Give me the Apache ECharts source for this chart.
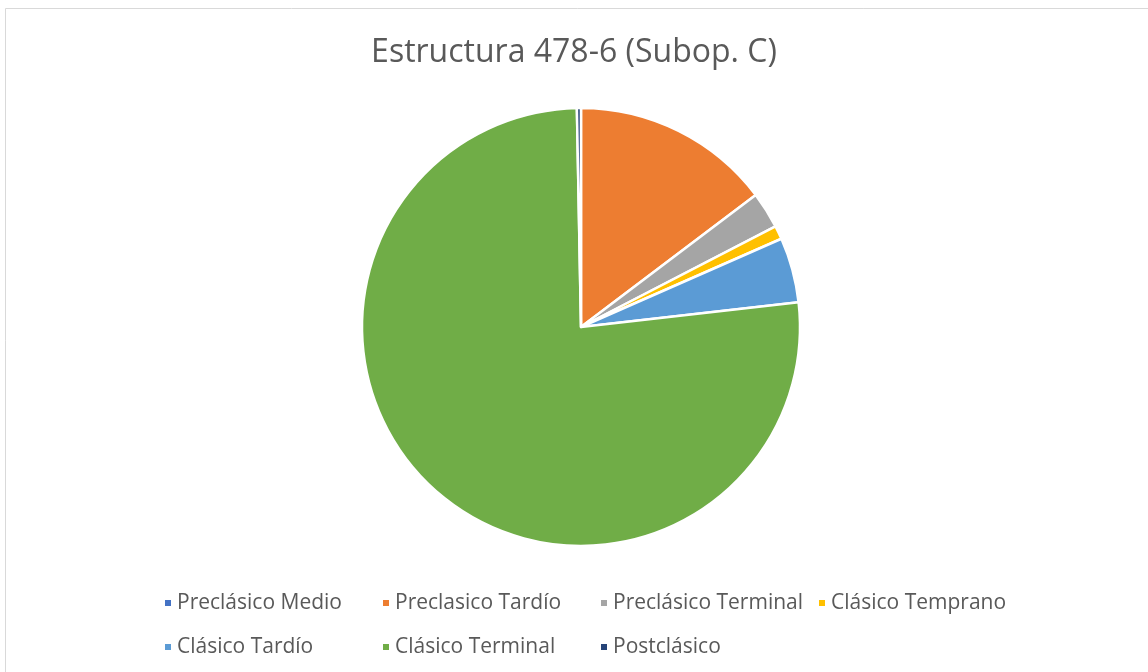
<!DOCTYPE html>
<html>
<head>
<meta charset="utf-8">
<script src="https://cdn.jsdelivr.net/npm/echarts@6/dist/echarts.min.js"></script>
<style>
  html, body { margin: 0; padding: 0; background: #fff; }
  #chart { width: 1148px; height: 672px; }
</style>
</head>
<body>
<div id="chart"></div>
<script>
// periodos y porcentajes
const periods = ['Preclásico Medio', 'Preclasico Tardío', 'Preclásico Terminal', 'Clásico Temprano', 'Clásico Tardío', 'Clásico Terminal', 'Postclásico'];
const values = [0, 14.7, 2.7, 1.0, 4.8, 76.5, 0.3];
const colors = ['#4472C4', '#ED7D31', '#A5A5A5', '#FFC000', '#5B9BD5', '#70AD47', '#264478'];

const chart = echarts.init(document.getElementById('chart'));

chart.setOption({
  color: colors,
  animation: false,
  title: {
    text: 'Estructura 478-6 (Subop. C)',
    left: 'center',
    top: 32,
    textStyle: {
      fontFamily: 'Open Sans',
      fontWeight: 'normal',
      fontSize: 32,
      color: '#595959'
    }
  },
  graphic: [
    {
      type: 'rect',
      shape: { x: 5.5, y: 8.5, width: 1160, height: 680 },
      style: { fill: 'none', stroke: '#d9d9d9', lineWidth: 1 },
      silent: true
    }
  ],
  legend: {
    left: 158,
    top: 582,
    width: 880,
    itemWidth: 8,
    itemHeight: 8,
    itemGap: 12,
    icon: 'rect',
    data: periods,
    textStyle: {
      fontFamily: 'Open Sans',
      fontSize: 21,
      color: '#595959',
      width: 192,
      lineHeight: 32,
      overflow: 'none'
    }
  },
  series: [
    {
      name: 'Estructura 478-6',
      type: 'pie',
      center: [581, 327],
      radius: 219,
      startAngle: 90,
      clockwise: true,
      label: { show: false },
      labelLine: { show: false },
      itemStyle: { borderColor: '#fff', borderWidth: 2.5 },
      data: periods.map((p, i) => ({ name: p, value: values[i] }))
    }
  ]
});
</script>
</body>
</html>
